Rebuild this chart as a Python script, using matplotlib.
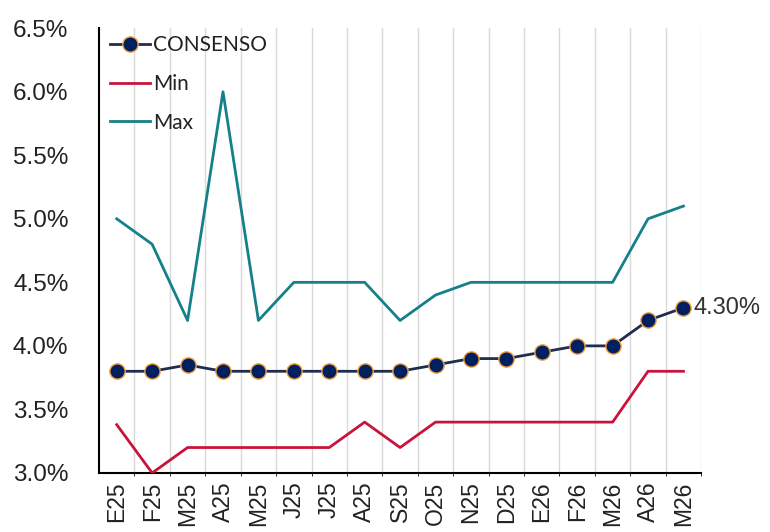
import matplotlib
matplotlib.use("Agg")
import matplotlib.pyplot as plt
from matplotlib.ticker import FuncFormatter, MultipleLocator, FixedLocator

categories = ["E25", "F25", "M25", "A25", "M25", "J25", "J25", "A25", "S25",
              "O25", "N25", "D25", "E26", "F26", "M26", "A26", "M26"]
consenso = [3.80, 3.80, 3.85, 3.80, 3.80, 3.80, 3.80, 3.80, 3.80,
            3.85, 3.90, 3.90, 3.95, 4.00, 4.00, 4.20, 4.30]
minimo = [3.38, 3.00, 3.20, 3.20, 3.20, 3.20, 3.20, 3.40, 3.20,
          3.40, 3.40, 3.40, 3.40, 3.40, 3.40, 3.80, 3.80]
maximo = [5.00, 4.80, 4.20, 6.00, 4.20, 4.50, 4.50, 4.50, 4.20,
          4.40, 4.50, 4.50, 4.50, 4.50, 4.50, 5.00, 5.10]
last_label = "4.30%"

fig = plt.figure(figsize=(7.7, 5.32), dpi=100)
ax = fig.add_axes([0.1286, 0.111, 0.782, 0.836])

x = list(range(len(categories)))

ax.plot(x, minimo, color="#C8143C", lw=2, label="Min", zorder=3)
ax.plot(x, maximo, color="#16808A", lw=2, label="Max", zorder=3)
ax.plot(x, consenso, color="#1F2D4F", lw=2, marker="o", markersize=11,
        markerfacecolor="#002060", markeredgecolor="#F4A040", markeredgewidth=1,
        label="CONSENSO", zorder=4)

ax.annotate(last_label, (x[-1], consenso[-1]), xytext=(7, 0),
            textcoords="offset points", va="center", ha="left",
            fontsize=17, color="#333333", family="Liberation Sans")

ax.set_xlim(-0.5, len(categories) - 0.5)
ax.set_ylim(3.0, 6.5)
ax.yaxis.set_major_locator(MultipleLocator(0.5))
ax.yaxis.set_major_formatter(FuncFormatter(lambda v, p: f"{v:.1f}%"))
ax.set_xticks(x)
ax.set_xticklabels(categories, rotation=90, fontsize=16.5, family="Liberation Sans",
                   color="#222222")
for lab in ax.get_yticklabels():
    lab.set_fontsize(17.5)
    lab.set_family("Liberation Sans")
    lab.set_color("#222222")
ax.tick_params(axis="both", length=0)
ax.tick_params(axis="x", pad=6)
ax.tick_params(axis="y", pad=22)

ax.xaxis.set_minor_locator(FixedLocator([i + 0.5 for i in x]))
ax.grid(which="minor", axis="x", color="#D9D9D9", lw=1)
ax.grid(which="major", visible=False)

for s in ["top", "right"]:
    ax.spines[s].set_visible(False)
for s in ["left", "bottom"]:
    ax.spines[s].set_color("black")
    ax.spines[s].set_linewidth(1.5)

handles, labels = ax.get_legend_handles_labels()
order = [2, 0, 1]
leg = ax.legend([handles[i] for i in order], [labels[i] for i in order],
                loc="upper left", bbox_to_anchor=(0.005, 1.003), frameon=False,
                borderaxespad=0,
                prop={"family": "Lato", "size": 15}, handlelength=1.9,
                handletextpad=0.15, labelspacing=0.9)
for t in leg.get_texts():
    t.set_color("#222222")

fig.savefig("out.png", dpi=100)
